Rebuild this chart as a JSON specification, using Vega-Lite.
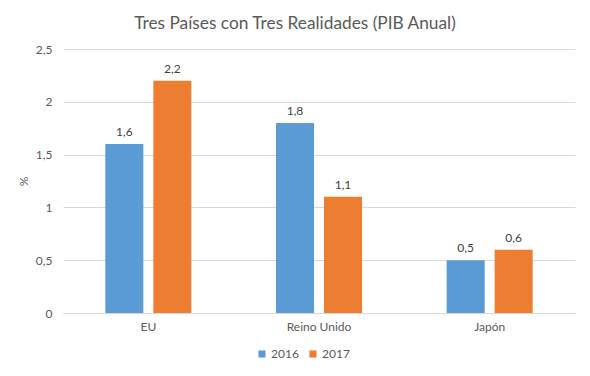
{
  "$schema": "https://vega.github.io/schema/vega-lite/v6.json",
  "autosize": "none",
  "width": 512,
  "height": 264,
  "padding": {"left": 63, "top": 49, "right": 15, "bottom": 63},
  "background": "white",
  "config": {
    "locale": {"number": {"decimal": ",", "thousands": ".", "grouping": [3], "currency": ["", " €"]}},
    "font": "Lato",
    "view": {"stroke": null},
    "axis": {"labelColor": "#595959", "labelFont": "Lato", "labelFontSize": 12, "titleColor": "#595959", "titleFont": "Lato", "titleFontWeight": "normal", "titleFontSize": 12}
  },
  "title": {
    "text": "Tres Países con Tres Realidades (PIB Anual)",
    "font": "Lato",
    "fontSize": 17.3,
    "fontWeight": "normal",
    "color": "#595959",
    "anchor": "middle",
    "dx": -24,
    "offset": 11
  },
  "data": {
    "values": [
      {"pais": "EU", "anio": "2016", "valor": 1.6},
      {"pais": "EU", "anio": "2017", "valor": 2.2},
      {"pais": "Reino Unido", "anio": "2016", "valor": 1.8},
      {"pais": "Reino Unido", "anio": "2017", "valor": 1.1},
      {"pais": "Japón", "anio": "2016", "valor": 0.5},
      {"pais": "Japón", "anio": "2017", "valor": 0.6}
    ]
  },
  "encoding": {
    "x": {
      "field": "pais", "type": "nominal", "sort": ["EU", "Reino Unido", "Japón"],
      "scale": {"paddingInner": 0.496, "paddingOuter": 0.248},
      "axis": {"title": null, "labelAngle": 0, "ticks": false, "domainColor": "#D9D9D9", "domainWidth": 1, "labelPadding": 8}
    },
    "xOffset": {"field": "anio", "type": "nominal", "scale": {"paddingInner": 0.208, "paddingOuter": 0}},
    "y": {
      "field": "valor", "type": "quantitative",
      "scale": {"domain": [0, 2.5], "nice": false},
      "axis": {"title": "%", "values": [0, 0.5, 1, 1.5, 2, 2.5], "format": ".1~f", "domain": false, "ticks": false, "gridColor": "#D9D9D9", "labelPadding": 11, "titlePadding": 5, "titleAngle": -90}
    }
  },
  "layer": [
    {
      "mark": {"type": "bar"},
      "encoding": {
        "color": {
          "field": "anio", "type": "nominal",
          "scale": {"domain": ["2016", "2017"], "range": ["#5B9BD5", "#ED7D31"]},
          "legend": {"title": null, "orient": "none", "direction": "horizontal", "legendX": 193, "legendY": 299, "symbolType": "square", "symbolSize": 50, "symbolStrokeWidth": 0, "labelFontSize": 12, "labelColor": "#595959", "labelFont": "Lato", "columnPadding": 8, "labelOffset": 3}
        }
      }
    },
    {
      "mark": {"type": "text", "dy": -12, "fontSize": 12, "color": "#404040", "font": "Lato"},
      "encoding": {
        "text": {"field": "valor", "type": "quantitative", "format": ".1f"}
      }
    }
  ]
}
